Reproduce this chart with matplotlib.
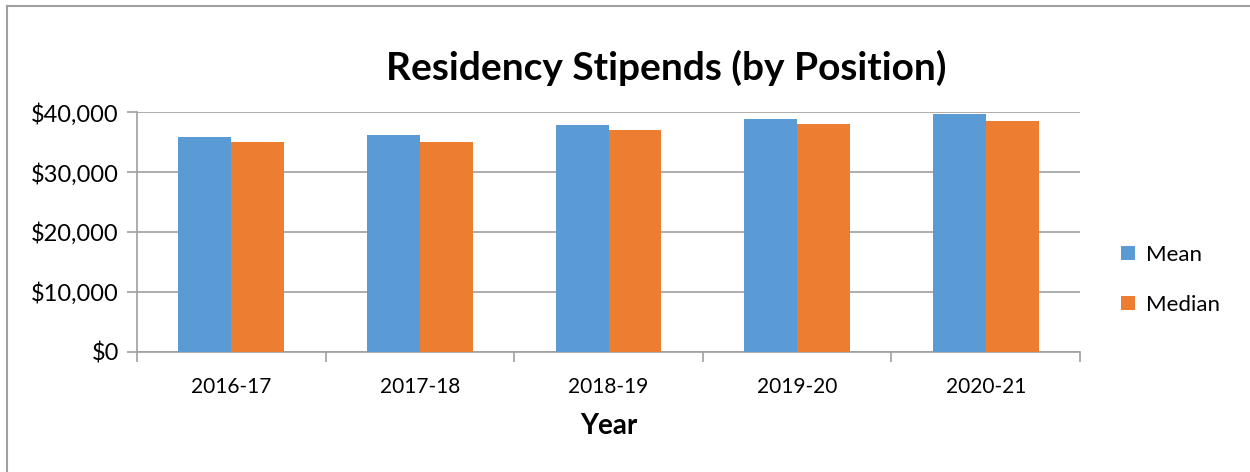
import matplotlib.pyplot as plt
import numpy as np
from matplotlib.lines import Line2D
from matplotlib.ticker import FuncFormatter, FixedLocator

# values
years = ["2016-17", "2017-18", "2018-19", "2019-20", "2020-21"]
mean_stipend = [35800, 36200, 37800, 38800, 39700]
median_stipend = [35000, 35000, 37000, 38000, 38500]

plt.rcParams['font.family'] = ['Lato', 'DejaVu Sans']

fig = plt.figure(figsize=(12.5, 4.72), dpi=100)
ax = fig.add_axes([137 / 1250, 1 - 351.7 / 472, (1080 - 137) / 1250, (351.7 - 112.3) / 472])

x = np.arange(len(years))
w = 0.28
ax.bar(x - w / 2, mean_stipend, w, color='#5B9BD5', label='Mean', zorder=3)
ax.bar(x + w / 2, median_stipend, w, color='#ED7D31', label='Median', zorder=3)

ax.set_xlim(-0.5, len(years) - 0.5)
ax.set_ylim(0, 40000)
ax.set_yticks([0, 10000, 20000, 30000, 40000])
ax.yaxis.set_major_formatter(FuncFormatter(lambda v, p: "${:,.0f}".format(v)))
ax.grid(axis='y', color='#A0A0A0', linewidth=1.2, zorder=0)

ax.set_xticks(x)
ax.set_xticklabels(years, fontsize=15)
ax.xaxis.set_minor_locator(FixedLocator(np.arange(-0.5, len(years), 1.0)))
ax.tick_params(axis='x', which='major', length=0, pad=18)
ax.tick_params(axis='x', which='minor', length=7, color='#A0A0A0', width=1.2)
ax.tick_params(axis='y', length=7, color='#A0A0A0', width=1.2, labelsize=17, pad=6)

for s in ['top', 'right']:
    ax.spines[s].set_visible(False)
for s in ['left', 'bottom']:
    ax.spines[s].set_color('#A0A0A0')
    ax.spines[s].set_linewidth(1.2)

ax.set_xlabel("Year", fontsize=20, fontweight='bold', labelpad=12)
fig.text(666 / 1250, 1 - 68 / 472, "Residency Stipends (by Position)",
         fontsize=28, fontweight='bold', ha='center', va='center')

ax.legend(loc='center left', bbox_to_anchor=(1.022, 0.30), frameon=False,
          fontsize=16, handlelength=0.65, handleheight=0.65, labelspacing=1.35,
          handletextpad=0.5)

# outer chart border (left and top edges visible)
fig.add_artist(Line2D([7 / 1250, 7 / 1250], [0, 1 - 6 / 472], transform=fig.transFigure,
                      color='#A0A0A0', linewidth=1.5))
fig.add_artist(Line2D([7 / 1250, 1], [1 - 6 / 472, 1 - 6 / 472], transform=fig.transFigure,
                      color='#A0A0A0', linewidth=1.5))

fig.savefig("out.png", dpi=100)
